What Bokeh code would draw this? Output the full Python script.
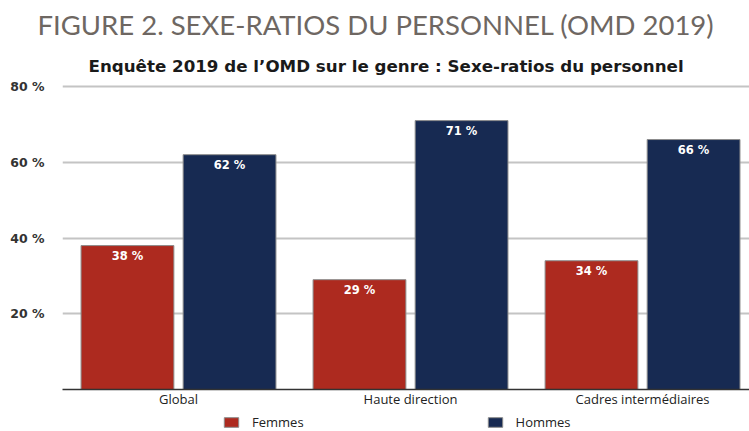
from bokeh.plotting import figure
from bokeh.layouts import column
from bokeh.models import ColumnDataSource, FixedTicker, Title, Legend, LegendItem, Range1d
from bokeh.embed import file_html
from bokeh.resources import INLINE
from bokeh.core.properties import value

# ---- data ----
categories = ["Global", "Haute direction", "Cadres intermédiaires"]
femmes = [38, 29, 34]
hommes = [62, 71, 66]
series_names = ["Femmes", "Hommes"]
y_ticks = [20, 40, 60, 80]
y_tick_labels = ["20 %", "40 %", "60 %", "80 %"]

main_title = "FIGURE 2. SEXE-RATIOS DU PERSONNEL (OMD 2019)"
sub_title = "Enquête 2019 de l’OMD sur le genre : Sexe-ratios du personnel"

RED = "#ad2a1f"
NAVY = "#172a52"
FONT = "Lato"
BOLD_FONT = "DejaVu Sans"
LABEL_FONT = "Open Sans"

xc = [i + 0.5 for i in range(len(categories))]
src_f = ColumnDataSource(dict(x=[v - 0.22 for v in xc], top=femmes,
                              label=[f"{v} %" for v in femmes]))
src_h = ColumnDataSource(dict(x=[v + 0.22 for v in xc], top=hommes,
                              label=[f"{v} %" for v in hommes]))

p = figure(width=749, height=410, output_backend="svg", toolbar_location=None,
           x_range=Range1d(0, 2.961), y_range=Range1d(0, 80.8),
           min_border_left=62, min_border_right=0, min_border_top=83,
           min_border_bottom=0)
p.outline_line_color = None

rf = p.vbar(x="x", top="top", width=0.40, source=src_f, fill_color=RED,
            line_color="#8c8c8c", line_width=1)
rh = p.vbar(x="x", top="top", width=0.40, source=src_h, fill_color=NAVY,
            line_color="#8c8c8c", line_width=1)

for src in (src_f, src_h):
    p.text(x="x", y="top", text="label", source=src, text_color="white",
           text_font=value(BOLD_FONT), text_font_style="bold",
           text_font_size="11.5px", text_align="center", text_baseline="top",
           y_offset=3)

# titles
p.title.text = main_title
p.title.text_font = FONT
p.title.text_font_style = "normal"
p.title.text_font_size = "27.5px"
p.title.text_color = "#6e6762"
p.title.align = "left"
p.title.standoff = 11
p.title.offset = -25
p.add_layout(Title(text=sub_title, text_font=BOLD_FONT, text_font_style="bold",
                   text_font_size="16.7px", text_color="#1a1a1a", align="left",
                   standoff=15, offset=26), "above")

# axes
p.xaxis.ticker = FixedTicker(ticks=xc)
p.xaxis.major_label_overrides = {x: c for x, c in zip(xc, categories)}
p.xaxis.axis_line_color = "#333333"
p.xaxis.axis_line_width = 1.5
p.xaxis.major_tick_line_color = None
p.xaxis.major_tick_out = 0
p.xaxis.major_tick_in = 0
p.xaxis.minor_tick_line_color = None
p.xaxis.major_label_text_font = LABEL_FONT
p.xaxis.major_label_text_font_size = "13px"
p.xaxis.major_label_text_color = "#222222"
p.xaxis.major_label_standoff = 0

p.yaxis.ticker = FixedTicker(ticks=y_ticks)
p.yaxis.major_label_overrides = {t: l for t, l in zip(y_ticks, y_tick_labels)}
p.yaxis.axis_line_color = None
p.yaxis.major_tick_line_color = None
p.yaxis.major_tick_out = 0
p.yaxis.major_tick_in = 0
p.yaxis.minor_tick_line_color = None
p.yaxis.major_label_text_font = BOLD_FONT
p.yaxis.major_label_text_font_style = "bold"
p.yaxis.major_label_text_font_size = "12.5px"
p.yaxis.major_label_text_color = "#333333"
p.yaxis.major_label_standoff = 18

p.xgrid.grid_line_color = None
p.ygrid.ticker = FixedTicker(ticks=y_ticks)
p.ygrid.grid_line_color = "#c4c4c4"
p.ygrid.grid_line_width = 2

# legend strip (separate small figure under the chart; its bars lie outside its view)
lg = figure(width=749, height=21, output_backend="svg", toolbar_location=None,
            x_range=Range1d(0, 2.961), y_range=Range1d(1000, 1001),
            min_border_left=62, min_border_right=0, min_border_top=0,
            min_border_bottom=0)
lg.outline_line_color = None
lg.axis.visible = False
lg.grid.visible = False
lf = lg.vbar(x="x", top="top", width=0.40, source=src_f, fill_color=RED,
             line_color="#8c8c8c", line_width=1)
lh = lg.vbar(x="x", top="top", width=0.40, source=src_h, fill_color=NAVY,
             line_color="#8c8c8c", line_width=1)
legend = Legend(items=[LegendItem(label=series_names[0], renderers=[lf]),
                       LegendItem(label=series_names[1], renderers=[lh])],
                orientation="horizontal", location=(160, 0), spacing=182,
                glyph_width=18, glyph_height=12, label_standoff=12,
                label_text_font=LABEL_FONT, label_text_font_size="13px",
                label_text_color="#222222", border_line_color=None,
                background_fill_alpha=0, padding=1, margin=0, label_height=12)
lg.add_layout(legend, "center")

layout = column(p, lg, spacing=0)
open("out.html", "w").write(file_html(layout, INLINE))
